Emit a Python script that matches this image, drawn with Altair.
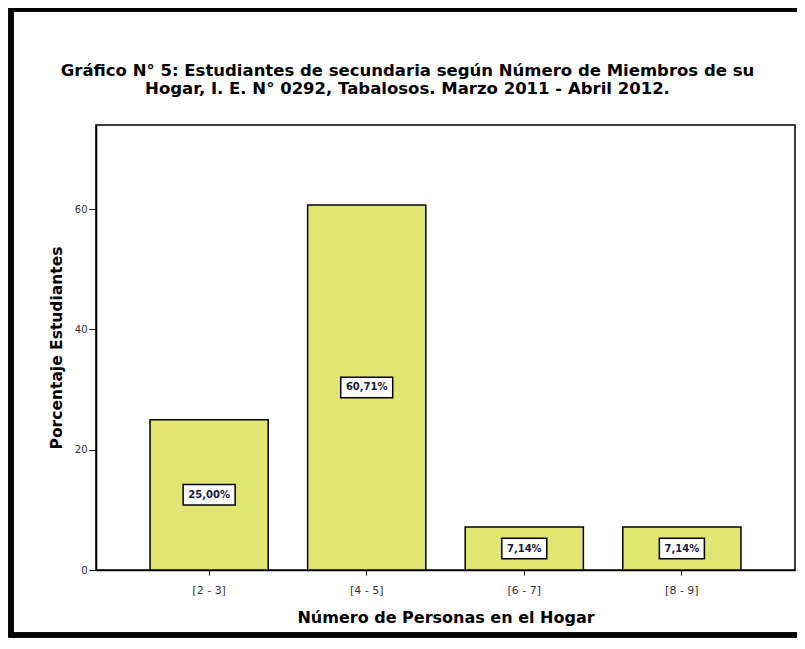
import altair as alt
import pandas as pd

categories = ["[2 - 3]", "[4 - 5]", "[6 - 7]", "[8 - 9]"]
percentages = [25.00, 60.71, 7.14, 7.14]
labels = ["25,00%", "60,71%", "7,14%", "7,14%"]

df = pd.DataFrame({"cat": categories, "pct": percentages, "label": labels})

FONT = "DejaVu Sans"

x_enc = alt.X(
    "cat:N",
    sort=categories,
    scale=alt.Scale(paddingInner=0.25, paddingOuter=0.343),
    axis=alt.Axis(
        title="Número de Personas en el Hogar",
        labelAngle=0,
        labelFontSize=11,
        labelColor="#333333",
        labelPadding=9,
        tickSize=5,
        tickColor="black",
        domainColor="black",
        domainWidth=1.5,
        titleFontSize=16,
        titleFontWeight="bold",
        titlePadding=14,
        titleColor="black",
        labelFont=FONT,
        titleFont=FONT,
    ),
)

y_scale = alt.Scale(domain=[0, 74], nice=False)

bars = alt.Chart(df).mark_bar(
    color="#e1e571", stroke="black", strokeWidth=1.5
).encode(
    x=x_enc,
    y=alt.Y(
        "pct:Q",
        scale=y_scale,
        axis=alt.Axis(
            title="Porcentaje Estudiantes",
            values=[0, 20, 40, 60],
            grid=False,
            labelFontSize=10,
            labelColor="#333333",
            labelPadding=2,
            tickSize=7,
            tickColor="black",
            domainColor="black",
            domainWidth=1.5,
            titleFontSize=15.5,
            titleFontWeight="bold",
            titlePadding=10,
            titleColor="black",
            labelFont=FONT,
            titleFont=FONT,
        ),
    ),
)

boxes = alt.Chart(df).transform_calculate(
    lo="datum.pct / 2 - 1.7",
    hi="datum.pct / 2 + 1.7",
    boxw="length(datum.label) * 7 + 10",
).mark_bar(fill="white", stroke="black", strokeWidth=1.5).encode(
    x=alt.X("cat:N", sort=categories),
    y=alt.Y("lo:Q", scale=y_scale),
    y2="hi:Q",
    size=alt.Size("boxw:Q", scale=None, legend=None),
)

texts = alt.Chart(df).transform_calculate(
    mid="datum.pct / 2"
).mark_text(
    font=FONT, fontSize=10, fontWeight="bold", color="#1a1a40", baseline="middle"
).encode(
    x=alt.X("cat:N", sort=categories),
    y=alt.Y("mid:Q", scale=y_scale),
    text="label:N",
)

frame = alt.Chart(df).mark_rect(
    fillOpacity=0, stroke="black", strokeWidth=5
).encode(
    x=alt.value(-85),
    x2=alt.value(740),
    y=alt.value(-116),
    y2=alt.value(510),
)

chart = alt.layer(bars, boxes, texts, frame).properties(
    width=699,
    height=445,
    title=alt.TitleParams(
        text=[
            "Gráfico N° 5: Estudiantes de secundaria según Número de Miembros de su",
            "Hogar,  I. E. N° 0292, Tabalosos. Marzo 2011 - Abril 2012.",
        ],
        font=FONT,
        fontSize=16.5,
        fontWeight="bold",
        color="black",
        anchor="middle",
        frame="group",
        dx=-38,
        dy=91,
        offset=0,
        lineHeight=18.5,
    ),
    padding={"left": 88, "top": 117, "right": 2, "bottom": 68},
    autosize=alt.AutoSizeParams(type="none"),
).configure(
    background="white",
    view=alt.ViewConfig(stroke="black", strokeWidth=1.5),
)

chart.save("out.html", embed_options={"renderer": "svg", "actions": False})
